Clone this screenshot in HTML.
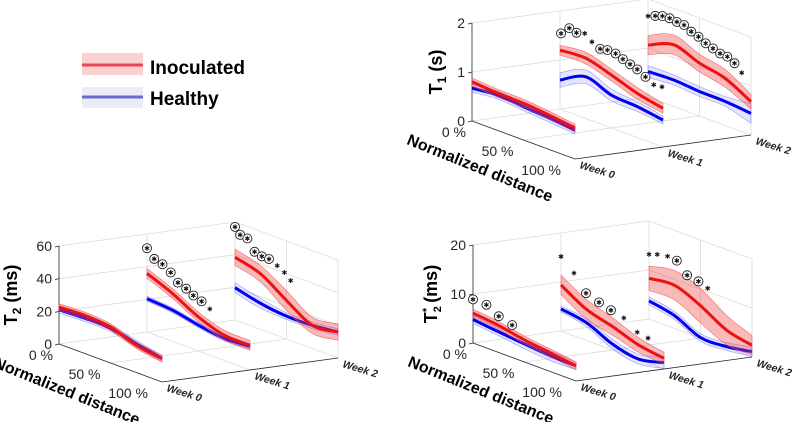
<!DOCTYPE html>
<html><head><meta charset="utf-8"><style>
html,body{margin:0;padding:0;background:#fff;}
svg{display:block;font-family:"Liberation Sans",sans-serif;}
</style></head><body>
<svg id="fig" width="794" height="422" viewBox="0 0 794 422">
  <g>
    <rect x="82" y="53" width="61" height="22" fill="#fbd0d0"/>
    <line x1="82" y1="65" x2="143" y2="65" stroke="#e8484f" stroke-width="3"/>
    <text x="150" y="74" font-size="19" font-weight="bold" fill="#000">Inoculated</text>
    <rect x="82" y="87" width="61" height="21" fill="#ececf8"/>
    <line x1="82" y1="97" x2="143" y2="97" stroke="#6a6ac8" stroke-width="3"/>
    <text x="150" y="105" font-size="19" font-weight="bold" fill="#000">Healthy</text>
  </g>
</svg>
<script>
// ---- data: values at normalized distance 0,25,50,75,100 % ----
const distances = [0, 0.25, 0.5, 0.75, 1];
const weekLabels = ["Week 0", "Week 1", "Week 2"];
const distTickLabels = ["0 %", "50 %", "100 %"];

// T1 (s)
const t1Ticks = [0, 1, 2];
const t1Red = [[0.80,0.76,0.75,0.70,0.63],[1.20,1.23,1.08,0.90,0.79],[1.06,1.26,1.08,0.96,0.68]];
const t1Blue = [[0.67,0.72,0.68,0.64,0.59],[0.59,0.85,0.67,0.63,0.55],[0.52,0.54,0.50,0.49,0.44]];
const t1RedSd = [[0.08,0.08,0.08,0.08,0.08],[0.10,0.12,0.12,0.12,0.10],[0.20,0.20,0.18,0.18,0.15]];
const t1BlueSd = [[0.08,0.08,0.08,0.08,0.08],[0.15,0.14,0.12,0.10,0.08],[0.12,0.10,0.10,0.10,0.20]];
const t1MarkD = [[],[.01,.09,.16,.24,.31,.39,.46,.54,.61,.68,.75,.83,.91,.99],[0,.07,.14,.21,.28,.35,.42,.49,.56,.63,.70,.77,.84,.91]];
const t1MarkZ = [[],[1.55,1.72,1.68,1.73,1.61,1.53,1.56,1.55,1.49,1.44,1.39,1.30,1.20,1.22],[1.65,1.71,1.76,1.77,1.75,1.74,1.66,1.61,1.53,1.48,1.43,1.42,1.34,1.20]];
const t1MarkCircled = [[],[1,1,1,0,0,1,1,1,1,1,1,1,0,0],[0,1,1,1,1,1,1,1,1,1,1,1,1,0]];

// T2 (ms)
const t2Ticks = [0, 20, 40, 60];
const t2Red = [[22.6,23.3,22.0,16.7,14.3],[35.9,29.2,20.8,15.5,15.2],[38.4,34.0,23.6,14.2,15.9]];
const t2Blue = [[21.0,21.6,21.2,17.7,14.3],[20.4,19.1,15.8,13.5,14.5],[19.8,15.9,14.0,14.2,15.9]];
const t2RedSd = [[2,2,2,2,2],[3,3,3,3,3],[5,5,6,5,5]];
const t2BlueSd = [[2,2,2,2,2],[1.5,1.5,1.5,1.5,1.5],[3,3,2,2,2]];
const t2MarkD = [[],[0,.07,.15,.23,.30,.38,.45,.53,.61],[0,.05,.12,.19,.26,.33,.41,.48,.54]];
const t2MarkZ = [[],[51.3,46.4,45.0,41.8,37.2,35.4,32.8,31.1,28.3],[57.0,53.3,52.7,46.2,45.0,45.0,42.8,40.3,36.7]];
const t2MarkCircled = [[],[1,1,1,1,1,1,1,1,0],[1,1,1,1,1,1,0,0,0]];

// T2* (ms)
const t2sTicks = [0, 10, 20];
const t2sRed = [[6.1,5.5,4.5,3.8,3.1],[9.4,6.3,4.8,3.0,2.2],[8.3,8.8,6.6,3.6,2.4]];
const t2sBlue = [[4.8,4.2,3.7,3.2,3.1],[4.5,3.6,1.2,0.1,1.3],[3.7,2.6,0.1,0.2,1.1]];
const t2sRedSd = [[0.8,0.8,0.8,0.8,0.8],[2,2,1.8,1.5,1.2],[2.5,3,3.5,3,2]];
const t2sBlueSd = [[0.8,0.8,1,1,0.8],[0.6,0.8,1,1,1.2],[0.8,0.8,0.8,0.8,1]];
const t2sMarkD = [[0,.13,.25,.38],[0,.126,.243,.369,.485,.61,.74,.845],[0,.08,.18,.27,.37,.48,.57]];
const t2sMarkZ = [[8.9,8.8,7.4,6.6],[15.2,12.8,9.6,8.7,8.0,7.4,5.5,5.1],[13.2,13.8,14.2,14.0,11.8,11.4,10.7]];
const t2sMarkCircled = [[1,1,1,1],[0,0,1,1,1,0,0,0],[0,0,0,1,1,1,0]];

const NS = "http://www.w3.org/2000/svg";
const svg = document.getElementById("fig");
function mk(tag, attrs, parent) {
  const e = document.createElementNS(NS, tag);
  for (const k in attrs) e.setAttribute(k, attrs[k]);
  (parent || svg).appendChild(e);
  return e;
}
function smooth(pts) {
  let d = "M" + pts[0][0].toFixed(1) + "," + pts[0][1].toFixed(1);
  for (let i = 0; i < pts.length - 1; i++) {
    const p0 = pts[Math.max(0, i - 1)], p1 = pts[i], p2 = pts[i + 1], p3 = pts[Math.min(pts.length - 1, i + 2)];
    const c1 = [p1[0] + (p2[0] - p0[0]) / 6, p1[1] + (p2[1] - p0[1]) / 6];
    const c2 = [p2[0] - (p3[0] - p1[0]) / 6, p2[1] - (p3[1] - p1[1]) / 6];
    d += " C" + c1[0].toFixed(1) + "," + c1[1].toFixed(1) + " " + c2[0].toFixed(1) + "," + c2[1].toFixed(1) + " " + p2[0].toFixed(1) + "," + p2[1].toFixed(1);
  }
  return d;
}
function smoothCont(pts) { return smooth(pts).replace(/^M/, "L"); }

function panel(cfg) {
  const g = mk("g", {});
  
  
  const zs = 98 / cfg.zmax;
  const P = (d, w, z) => [cfg.ox + 103 * d + 88 * w, cfg.oy + 38 * d - 12 * w - z * zs];
  const line = (a, b, col, sw, nm) => {
    const l = mk("line", { x1: a[0], y1: a[1], x2: b[0], y2: b[1], stroke: col, "stroke-width": sw }, g);
    
    
  };
  const grid = "#dcdcdc", ax = "#262626";
  const zmid = cfg.ticks.slice(1, -1);
  [0, ...zmid, cfg.zmax].forEach(z => line(P(0, 0, z), P(0, 2, z), grid, 0.8, "back-wall-gridline"));
  [1, 2].forEach(w => line(P(0, w, 0), P(0, w, cfg.zmax), grid, 0.8, "back-wall-week-gridline"));
  [0, ...zmid, cfg.zmax].forEach(z => line(P(0, 2, z), P(1, 2, z), grid, 0.8, "side-wall-gridline"));
  [0.5, 1].forEach(d => line(P(d, 2, 0), P(d, 2, cfg.zmax), grid, 0.8, "side-wall-distance-gridline"));
  [1].forEach(w => line(P(0, w, 0), P(1, w, 0), grid, 0.8, "floor-week-gridline"));
  line(P(0.5, 0, 0), P(0.5, 2, 0), grid, 0.8, "floor-distance-gridline");
  line(P(0, 0, 0), P(0, 0, cfg.zmax), ax, 0.8, "z-axis");
  line(P(0, 0, 0), P(1, 0, 0), ax, 0.8, "distance-axis");
  line(P(1, 0, 0), P(1, 2, 0), ax, 0.8, "week-axis");
  cfg.ticks.forEach(t => {
    const p = P(0, 0, t);
    line(p, [p[0] - 4, p[1] + 1], ax, 0.8, "z-tick");
    const tx = mk("text", { x: p[0] - 7, y: p[1] + 5, "font-size": 14, "text-anchor": "end", fill: "#262626" }, g);
    tx.textContent = String(t);
    
    
  });
  [0, 0.5, 1].forEach((d, i) => {
    const p = P(d, 0, 0);
    const tx = mk("text", { x: p[0] - 6 - 8 * d, y: p[1] + 16, "font-size": 14, "text-anchor": "end", fill: "#262626" }, g);
    tx.textContent = distTickLabels[i];
    
    
  });
  [0, 1, 2].forEach(w => {
    const p = P(1, w, 0);
    const x = p[0] + 4, y = p[1] + 9;
    const tx = mk("text", { x: x, y: y, "font-size": 10.5, "font-weight": "bold", "font-style": "italic", fill: "#262626", transform: "rotate(17 " + x + " " + y + ")" }, g);
    tx.textContent = weekLabels[w];
    
    
  });
  const nx = cfg.ox + 6, ny = cfg.oy + 52;
  const nt = mk("text", { x: nx, y: ny, "font-size": 16, "font-weight": "bold", "text-anchor": "middle", fill: "#000", transform: "rotate(22 " + nx + " " + ny + ")" }, g);
  nt.textContent = "Normalized distance";
  
  
  const zx = cfg.ox + cfg.titleDx, zy = cfg.oy - 49;
  const zt = mk("text", { x: zx, y: zy, "font-size": 18, "font-weight": "bold", "text-anchor": "middle", fill: "#000", transform: "rotate(-90 " + zx + " " + zy + ")" }, g);
  zt.innerHTML = cfg.title;
  
  

  for (let w = 2; w >= 0; w--) {
    [["blue", cfg.blue, cfg.blueSd, "rgba(110,110,255,0.18)", "rgba(90,90,255,0.6)", "#0000ee"],
     ["red", cfg.red, cfg.redSd, "rgba(240,70,70,0.38)", "rgba(240,80,80,0.8)", "#ee1111"]].forEach(s => {
      const vals = s[1][w], sd = s[2][w];
      const up = distances.map((d, i) => P(d, w, vals[i] + sd[i]));
      const lo = distances.map((d, i) => P(d, w, vals[i] - sd[i])).reverse();
      const band = mk("path", { d: smooth(up) + " " + smoothCont(lo) + " Z", fill: s[3], stroke: s[4], "stroke-width": 0.6 }, g);
      
      
      const mid = distances.map((d, i) => P(d, w, vals[i]));
      const ln = mk("path", { d: smooth(mid), fill: "none", stroke: s[5], "stroke-width": 3 }, g);
      
      
    });
    cfg.markD[w].forEach((d, i) => {
      const p = P(d, w, cfg.markZ[w][i]);
      const mg = mk("g", {}, g);
      
      
      if (cfg.markC[w][i]) mk("circle", { cx: p[0], cy: p[1], r: 4.5, fill: "#fff", stroke: "#222", "stroke-width": 0.9 }, mg);
      for (let k = 0; k < 3; k++) {
        const a = Math.PI / 2 + k * Math.PI / 3, r = 2.5;
        mk("line", { x1: p[0] - r * Math.cos(a), y1: p[1] - r * Math.sin(a), x2: p[0] + r * Math.cos(a), y2: p[1] + r * Math.sin(a), stroke: "#111", "stroke-width": 1.1 }, mg);
      }
    });
  }
}

panel({ name: "t1-panel", ox: 472, oy: 121, zmax: 2, ticks: t1Ticks, titleDx: -30,
  title: 'T<tspan font-size="12" dy="4">1</tspan><tspan dy="-4">  (s)</tspan>',
  red: t1Red, blue: t1Blue, redSd: t1RedSd, blueSd: t1BlueSd, markD: t1MarkD, markZ: t1MarkZ, markC: t1MarkCircled });
panel({ name: "t2-panel", ox: 59, oy: 344, zmax: 60, ticks: t2Ticks, titleDx: -42,
  title: 'T<tspan font-size="12" dy="4">2</tspan><tspan dy="-4">  (ms)</tspan>',
  red: t2Red, blue: t2Blue, redSd: t2RedSd, blueSd: t2BlueSd, markD: t2MarkD, markZ: t2MarkZ, markC: t2MarkCircled });
panel({ name: "t2star-panel", ox: 473, oy: 343, zmax: 20, ticks: t2sTicks, titleDx: -36,
  title: 'T<tspan font-size="11" dy="4">2</tspan><tspan font-size="11" dx="-6" dy="-11">*</tspan><tspan dy="7">  (ms)</tspan>',
  red: t2sRed, blue: t2sBlue, redSd: t2sRedSd, blueSd: t2sBlueSd, markD: t2sMarkD, markZ: t2sMarkZ, markC: t2sMarkCircled });
</script>
</body></html>
